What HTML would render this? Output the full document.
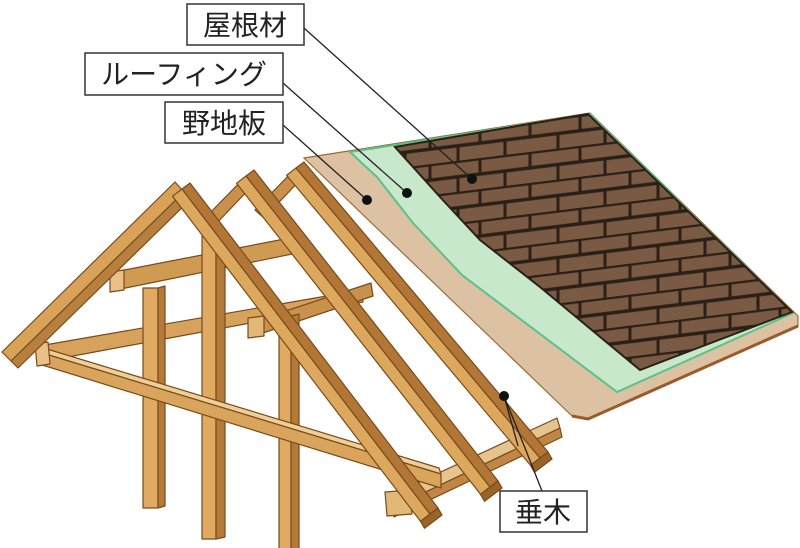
<!DOCTYPE html>
<html><head><meta charset="utf-8"><style>
html,body{margin:0;padding:0;background:#fff;width:800px;height:548px;overflow:hidden}
svg{display:block}
text{font-family:"Liberation Sans","Noto Sans CJK JP",sans-serif;fill:#222}
</style></head><body>
<svg width="800" height="548" viewBox="0 0 800 548" xmlns="http://www.w3.org/2000/svg">
<defs>
<pattern id="sh" width="100" height="31" patternUnits="userSpaceOnUse" patternTransform="skewY(-7)">
<rect width="100" height="31" fill="#7a5a42"/>
<line x1="0" y1="0.5" x2="100" y2="0.5" stroke="#2a2018" stroke-width="3.5"/>
<line x1="0" y1="16" x2="100" y2="16" stroke="#2a2018" stroke-width="3.5"/>
<line x1="30" y1="0" x2="30" y2="16" stroke="#2a2018" stroke-width="3"/>
<line x1="80" y1="0" x2="80" y2="16" stroke="#2a2018" stroke-width="3"/>
<line x1="5" y1="16" x2="5" y2="31" stroke="#2a2018" stroke-width="3"/>
<line x1="58" y1="16" x2="58" y2="31" stroke="#2a2018" stroke-width="3"/>
</pattern>
</defs>
<g stroke="#7a4a1a" stroke-width="1.2" stroke-linejoin="round">
<polygon points="39,346 361,290 363,302 41,362" fill="#d6a25c"/>
<polygon points="252,322 371,283 373,296 254,336" fill="#c8924c"/>
<polygon points="248,318 264,316 264,336 248,338" fill="#e2b877"/>
<polygon points="114,272 300,236 302,252 116,290" fill="#cf9a52"/>
<polygon points="110,272 124,270 124,290 110,292" fill="#e8c088"/>
<polygon points="389,496 557,418 560,428 392,508" fill="#e6c48e"/>
<polygon points="392,508 560,428 562,437 394,517" fill="#c08646"/>
<polygon points="385,492 410,490 412,514 387,516" fill="#e2b877"/>
<polygon points="246,176 205,218 214,226 254,184" fill="#c8904a"/>
<polygon points="296,168 255,210 264,218 304,176" fill="#c8904a"/>
<polygon points="143,288 158,288 158,508 143,508" fill="#e0aa62"/>
<polygon points="158,288 165,286 165,506 158,508" fill="#b57a3a"/>
<polygon points="202,236 216,236 216,539 202,539" fill="#e0aa62"/>
<polygon points="216,236 225,234 225,537 216,539" fill="#b57a3a"/>
<polygon points="279,316 291,316 291,550 279,550" fill="#e0aa62"/>
<polygon points="291,316 299,314 299,550 291,550" fill="#b57a3a"/>
<polygon points="37,346 439,468 441,474 39,352" fill="#efcf98"/>
<polygon points="39,352 441,474 441,488 39,364" fill="#d9a45c"/>
<polygon points="35,344 48,342 50,364 37,366" fill="#e8c088"/>
<polygon points="175,182 2,352 11,361 184,192" fill="#d8a258"/>
<polygon points="184,192 11,361 18,368 191,199" fill="#b8803e"/>
<polygon points="182,189 430,514 420.5,521.3 172.5,196.3" fill="#dca85e"/>
<polygon points="182,189 430,514 438,508 190,183" fill="#b27636"/>
<polygon points="420.5,521.3 438,508 442,515 424.5,528.3" fill="#9a6428"/>
<polygon points="246,176 490,487 480.5,494.3 236.5,183.3" fill="#dca85e"/>
<polygon points="246,176 490,487 498,481 254,170" fill="#b27636"/>
<polygon points="480.5,494.3 498,481 502,488 484.5,501.3" fill="#9a6428"/>
<polygon points="296,168 540,458 530.5,465.3 286.5,175.3" fill="#dca85e"/>
<polygon points="296,168 540,458 548,452 304,162" fill="#b27636"/>
<polygon points="530.5,465.3 548,452 552,459 534.5,472.3" fill="#9a6428"/>
</g>
<polygon points="304,158 590,113 798,316 798,326 588,419 572,416" fill="#dcc2a2" stroke="#9a6a3a" stroke-width="1.2"/>
<polyline points="572,416 588,419 798,326" fill="none" stroke="#9a5a2a" stroke-width="3"/>
<polygon points="350,152 590,114 793,313 617,392 462,275 413,223 377,177" fill="#c8e8cc" stroke="#5cc08a" stroke-width="2"/>
<polygon points="395,147 588,114 792,312 640,370 540,287 480,240 440,197" fill="url(#sh)" stroke="#2a2018" stroke-width="2"/>
<g stroke="#222" stroke-width="1.3" fill="none">
<line x1="304" y1="28" x2="472" y2="179"/>
<line x1="283" y1="83" x2="407" y2="193"/>
<line x1="283" y1="125" x2="367" y2="200"/>
<polyline points="504,396 525,448 542,491"/>
<line x1="504" y1="396" x2="518" y2="446"/>
</g>
<g fill="#111">
<circle cx="472" cy="179" r="5"/><circle cx="407" cy="193" r="5"/><circle cx="367" cy="200" r="5"/><circle cx="504" cy="396" r="5"/>
</g>
<g fill="#fff" stroke="#333" stroke-width="1.5">
<rect x="187" y="4" width="117" height="41"/>
<rect x="85" y="53" width="198" height="42"/>
<rect x="165" y="102" width="118" height="41"/>
<rect x="500" y="491" width="87" height="41"/>
</g>
<text x="245" y="35" font-size="28" text-anchor="middle">屋根材</text>
<text x="184" y="84" font-size="28" text-anchor="middle">ルーフィング</text>
<text x="224" y="133" font-size="28" text-anchor="middle">野地板</text>
<text x="543" y="522" font-size="28" text-anchor="middle">垂木</text>
</svg>
</body></html>
